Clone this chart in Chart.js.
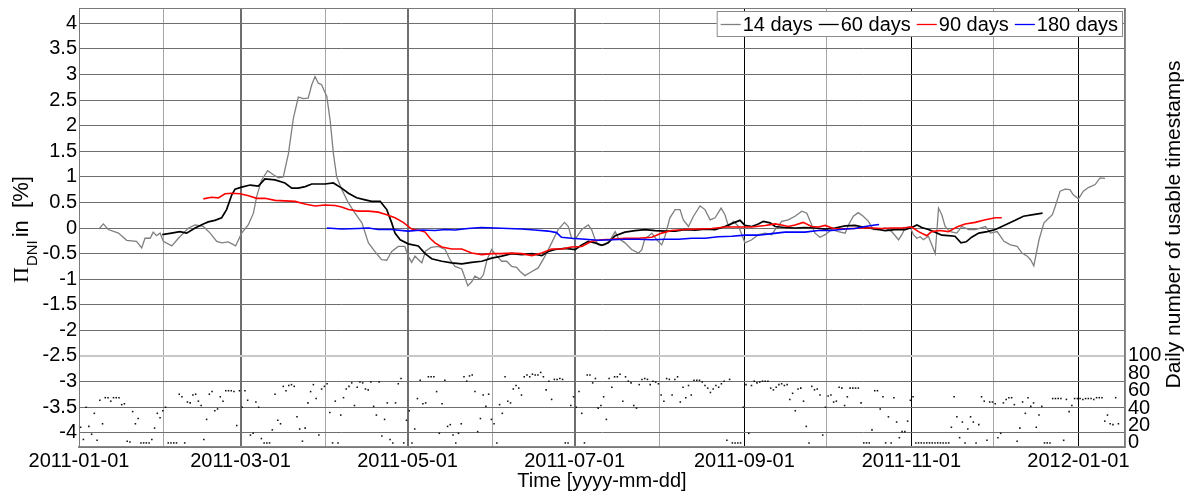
<!DOCTYPE html>
<html>
<head>
<meta charset="utf-8" />
<script src="https://cdn.jsdelivr.net/npm/chart.js@4.4.0/dist/chart.umd.min.js"></script>
<style>
  body { margin:0; background:#fff; }
  #wrap { width:1192px; height:497px; }
</style>
</head>
<body>
<div id="wrap"><canvas id="piChart" width="1192" height="497"></canvas></div>
<script>
// x values are days since 2011-01-01
const monthStarts = [0, 31, 59, 90, 120, 151, 181, 212, 243, 273, 304, 334, 365];
const monthLabels = ['2011-01-01', '', '2011-03-01', '', '2011-05-01', '', '2011-07-01', '', '2011-09-01', '', '2011-11-01', '', '2012-01-01'];
const piTicks = [-4, -3.5, -3, -2.5, -2, -1.5, -1, -0.5, 0, 0.5, 1, 1.5, 2, 2.5, 3, 3.5, 4];
const countTicks = [0, 20, 40, 60, 80, 100];

const days14 = [7.3, 8.9, 10.7, 14.4, 17.4, 21, 22.9, 24.1, 26, 27.1, 28.3, 29.6, 30.8, 33.9, 36.3, 40, 42.4, 45.4, 47.9, 50.3,
  52.1, 54.5, 57.2, 59.4, 61.8, 63.7, 64.9, 66.7, 68.9, 71, 72.8, 74.6, 76.5, 78.3, 80.1, 81.9, 83.7, 85, 86.2, 87.4,
  88.6, 90.5, 91.7, 92.9, 94.1, 96, 98.4, 100.8, 103.3, 105.7, 108.1, 110.5, 112.4, 114.2, 116.6, 119, 120.2, 121.5, 122.7, 124,
  125.2, 126.6, 128.6, 131.2, 133.7, 135.5, 137.3, 139.8, 142, 143.4, 144.6, 146.5, 147.7, 149, 150.7, 152.6, 154.4, 156.2, 158, 159.8,
  161.1, 162.9, 165.4, 167.7, 170.2, 172.6, 175, 177.3, 178.7, 179.9, 181.2, 183.6, 186, 187.2, 188.5, 189.7, 192.1, 194, 195.8, 197,
  199.4, 201.8, 204.3, 205.5, 206.7, 208, 209.2, 211, 212.8, 214, 215.8, 217.7, 219.5, 220.7, 222.6, 224.4, 226.8, 228.6, 230.5, 232.3,
  234.5, 235.9, 237.2, 239, 240.9, 243.2, 245.7, 248.1, 250.6, 253, 254.2, 255.4, 256.6, 259, 261.5, 264, 265.8, 267.3, 268.8, 270.6,
  272.5, 274.9, 277.3, 279.8, 281, 282.8, 284.6, 286.4, 288.3, 290.1, 291.9, 294.4, 296.8, 299.3, 300.5, 301.7, 303.5, 304.7, 306, 307.2,
  308.4, 310.2, 312.7, 313.9, 315.1, 316.3, 318.2, 320.6, 322.4, 324.9, 327.3, 329.2, 331, 332.9, 335.3, 337.8, 340.2, 342.6, 344.4, 346.3,
  347.5, 348.7, 350.6, 352.4, 354.3, 355.5, 356.5, 358.3, 360.1, 361.9, 363.1, 365, 366.8, 368.6, 371.1, 372.9, 374.7];
const pi14 = [-0.02, 0.08, -0.03, -0.1, -0.24, -0.26, -0.39, -0.2, -0.2, -0.08, -0.15, -0.1, -0.26, -0.35, -0.2, 0, 0.06, 0.03, -0.1, -0.26,
  -0.29, -0.27, -0.35, -0.1, 0.06, 0.29, 0.62, 0.94, 1.12, 1.04, 0.98, 1.0, 1.46, 2.15, 2.56, 2.53, 2.54, 2.8, 2.96, 2.83,
  2.8, 2.57, 2.11, 1.46, 1.0, 0.75, 0.49, 0.29, 0.1, -0.29, -0.46, -0.62, -0.63, -0.46, -0.36, -0.36, -0.55, -0.67, -0.55, -0.62,
  -0.68, -0.45, -0.38, -0.36, -0.42, -0.62, -0.75, -0.8, -1.13, -1.05, -0.94, -1.0, -0.91, -0.62, -0.42, -0.55, -0.65, -0.65, -0.75, -0.77,
  -0.85, -0.93, -0.85, -0.78, -0.55, -0.29, -0.03, 0.11, 0.03, -0.2, -0.22, -0.03, 0.06, -0.03, -0.23, -0.33, -0.33, -0.23, -0.07, -0.2,
  -0.29, -0.42, -0.49, -0.43, -0.2, -0.16, -0.1, -0.23, -0.33, -0.16, 0.2, 0.36, 0.36, 0.16, 0.03, 0.23, 0.43, 0.36, 0.16, 0.2,
  0.39, 0.26, 0.03, 0.13, 0.03, -0.29, -0.23, -0.13, -0.1, -0.13, -0.03, 0.03, 0.13, 0.16, 0.23, 0.33, 0.29, 0.1, -0.1, -0.18,
  -0.13, -0.03, -0.07, -0.1, 0.06, 0.23, 0.3, 0.23, 0.13, -0.03, -0.03, 0, -0.07, -0.23, -0.13, 0, 0.03, -0.13, -0.2, -0.17,
  -0.23, -0.16, -0.5, 0.39, 0.26, 0.03, -0.07, -0.1, 0.03, -0.03, -0.03, 0, 0.03, -0.1, -0.07, -0.26, -0.33, -0.36, -0.49, -0.55,
  -0.62, -0.74, -0.23, 0.1, 0.2, 0.26, 0.42, 0.72, 0.76, 0.75, 0.65, 0.57, 0.72, 0.79, 0.85, 0.98, 0.97];

const days60 = [30.4, 33.8, 36.8, 39.3, 42.4, 45.4, 47.2, 49.6, 52.1, 53.9, 55.8, 57, 59.4, 62.5, 65.5, 67.9, 71.6, 75.2, 77.7, 80.1,
  82.6, 85, 87.4, 89.8, 92.9, 95.9, 98.4, 101.4, 104.5, 106.9, 110, 112.4, 114.2, 115.4, 117.3, 120.2, 123.9, 126.4, 128.8, 132.5,
  136.1, 139.8, 143.4, 147.1, 150.7, 154.4, 158, 161.7, 165.4, 169, 171.4, 173.9, 177.5, 181.2, 183.6, 186, 188.5, 190.9, 193.3, 195.8,
  199.4, 203.1, 206.7, 210.4, 214, 217.7, 221.3, 225, 228.6, 232.3, 235.9, 239, 241.4, 243.2, 245.7, 248.1, 249.9, 252.4, 254.2, 257.8,
  261.5, 265.1, 268.8, 272.5, 276.1, 279.8, 283.4, 287.1, 290.7, 294.4, 298, 301.7, 304.1, 306, 307.8, 310.2, 312.6, 315.1, 317.5, 319.9,
  322.1, 324, 326, 328.6, 331.7, 334.7, 338.2, 341.9, 344.9, 348.5, 351.9];
const pi60 = [-0.13, -0.1, -0.07, -0.1, 0, 0.08, 0.12, 0.15, 0.2, 0.36, 0.65, 0.76, 0.8, 0.84, 0.82, 0.96, 0.94, 0.88, 0.78, 0.78,
  0.81, 0.86, 0.86, 0.86, 0.88, 0.78, 0.68, 0.59, 0.55, 0.52, 0.52, 0.36, 0.1, -0.1, -0.23, -0.31, -0.35, -0.5, -0.6, -0.65,
  -0.68, -0.7, -0.67, -0.65, -0.59, -0.55, -0.5, -0.52, -0.5, -0.54, -0.46, -0.42, -0.4, -0.42, -0.33, -0.26, -0.29, -0.34, -0.29, -0.15,
  -0.08, -0.05, -0.03, -0.05, -0.06, -0.06, -0.03, -0.04, -0.02, -0.03, 0.03, 0.1, 0.15, 0.05, 0.03, 0.08, 0.13, 0.1, 0.03, 0.01,
  0, 0.01, 0, -0.02, 0, 0.04, 0.05, 0.01, -0.02, -0.05, -0.03, -0.03, 0.01, 0.06, 0.01, -0.03, -0.08, -0.14, -0.15, -0.16,
  -0.29, -0.27, -0.18, -0.1, -0.07, -0.03, 0.06, 0.15, 0.23, 0.26, 0.29];

const days90 = [45.4, 48.4, 50.9, 53.3, 55.8, 58.8, 61.9, 64.9, 67.9, 71.6, 75.2, 78.9, 82.5, 86.2, 89.8, 93.5, 95.9, 98.4, 102, 105.7,
  109.3, 112.4, 115.4, 118.4, 121.5, 125.2, 126.4, 128.2, 130, 132.5, 136.1, 139.8, 143.4, 147.1, 150.7, 154.4, 158, 161.7, 165.4, 169,
  172.6, 176.3, 179.9, 183.6, 187.2, 190.9, 194.6, 199.4, 204.3, 209.2, 212.8, 216.4, 221.3, 226.2, 231.1, 236, 240.9, 245.7, 250.6, 254.2,
  256.6, 259, 261.5, 264.5, 267.5, 270, 272.5, 275.5, 278.6, 282.2, 285.9, 289.5, 293.2, 296.8, 300.5, 304.1, 306.6, 309.6, 311.4, 314.4,
  317.5, 320.6, 323.6, 327.3, 331, 334.7, 337];
const pi90 = [0.57, 0.6, 0.59, 0.67, 0.68, 0.67, 0.63, 0.58, 0.58, 0.54, 0.53, 0.52, 0.47, 0.43, 0.45, 0.44, 0.41, 0.36, 0.33, 0.33,
  0.31, 0.26, 0.2, 0.11, -0.02, -0.06, -0.08, -0.2, -0.29, -0.37, -0.41, -0.41, -0.49, -0.52, -0.5, -0.5, -0.49, -0.5, -0.54, -0.49,
  -0.41, -0.41, -0.37, -0.36, -0.26, -0.23, -0.22, -0.2, -0.2, -0.18, -0.1, -0.05, -0.03, -0.02, -0.01, 0.02, 0.02, 0.02, 0.05, 0.08,
  0.06, 0.03, 0.06, 0.11, 0.03, 0.02, 0.05, -0.01, -0.02, -0.01, 0, 0, -0.01, 0, 0, 0.02, -0.07, -0.15, -0.07, -0.05,
  -0.07, 0.02, 0.08, 0.11, 0.16, 0.2, 0.2];

const days180 = [90.5, 95.9, 102, 105.7, 109.3, 114.2, 120.2, 125.2, 130, 133.7, 137.3, 142, 146.9, 151.9, 156.7, 161.6, 166.4, 171.3, 174.4, 176.2,
  179.9, 184.8, 189.7, 194.6, 199.4, 204.3, 209.2, 214, 218.9, 223.8, 228.6, 233.5, 238.4, 243.2, 248.1, 253, 257.8, 261.5, 265.1, 270,
  274.9, 279.8, 283.4, 287.1, 290.7, 292.2];
const pi180 = [0, -0.02, -0.01, 0, -0.03, -0.03, -0.06, -0.04, -0.05, -0.03, -0.04, -0.01, 0.01, 0, -0.01, -0.02, -0.04, -0.06, -0.09, -0.18,
  -0.2, -0.22, -0.24, -0.23, -0.22, -0.22, -0.23, -0.22, -0.22, -0.2, -0.2, -0.17, -0.16, -0.14, -0.14, -0.11, -0.08, -0.08, -0.08, -0.05,
  -0.05, -0.02, -0.01, 0.03, 0.06, 0.07];

// one value per day, starting 2011-01-01
const dailyCounts = [
  18, 4, 41, 19, 10, 34, 3, 49, 22, 52, 52, 48, 52, 52, 52, 44, 45, 2, 1, 36,
  22, 28, 0, 0, 0, 0, 4, 17, 34, 29, 37, 41, 0, 0, 0, 0, 56, 53, 0, 47,
  46, 55, 56, 48, 43, 4, 27, 56, 59, 37, 39, 53, 48, 60, 60, 60, 59, 20, 60, 41,
  60, 49, 9, 11, 47, 41, 5, 0, 0, 0, 15, 56, 26, 22, 65, 60, 66, 67, 65, 30,
  16, 2, 17, 46, 59, 67, 51, 9, 62, 65, 68, 35, 0, 48, 0, 32, 52, 62, 65, 69,
  43, 64, 70, 69, 62, 61, 70, 42, 32, 70, 8, 27, 46, 4, 0, 46, 68, 74, 0, 26,
  37, 0, 16, 51, 72, 45, 46, 76, 76, 76, 59, 11, 45, 72, 19, 21, 9, 0, 11, 22,
  76, 71, 77, 78, 59, 13, 28, 55, 42, 56, 27, 22, 0, 44, 34, 76, 48, 46, 62, 66,
  63, 55, 76, 78, 76, 79, 78, 78, 81, 76, 61, 71, 50, 73, 73, 74, 73, 0, 0, 43,
  53, 41, 59, 34, 0, 78, 78, 69, 74, 40, 43, 53, 27, 74, 64, 76, 76, 79, 48, 76,
  71, 69, 43, 40, 67, 73, 74, 73, 67, 71, 70, 68, 55, 48, 74, 73, 55, 73, 76, 47,
  64, 52, 66, 55, 72, 72, 72, 70, 66, 63, 58, 62, 66, 64, 68, 71, 3, 73, 0, 0,
  0, 0, 41, 67, 11, 66, 71, 69, 70, 71, 71, 71, 63, 61, 64, 67, 68, 66, 67, 50,
  57, 37, 62, 63, 48, 19, 0, 65, 61, 62, 55, 9, 41, 54, 55, 47, 48, 64, 63, 43,
  53, 63, 63, 63, 63, 46, 0, 0, 0, 15, 60, 60, 39, 53, 0, 30, 0, 52, 24, 6,
  13, 13, 25, 49, 53, 0, 0, 0, 0, 0, 0, 0, 0, 0, 0, 0, 0, 0, 18, 53,
  30, 6, 24, 0, 16, 30, 24, 0, 21, 53, 48, 3, 47, 47, 45, 6, 11, 46, 50, 52,
  52, 44, 2, 17, 47, 34, 52, 42, 46, 18, 32, 42, 0, 0, 0, 51, 51, 51, 51, 3,
  50, 36, 43, 51, 51, 51, 50, 51, 51, 51, 50, 52, 52, 52, 25, 32, 22, 21, 52, 22
];

const FONT = "'Liberation Sans', Arial, sans-serif";

function pairs(xs, ys) { return xs.map((x, i) => ({ x: x, y: ys[i] })); }

function noPad(scale) {
  scale.paddingTop = 0; scale.paddingBottom = 0;
  scale.paddingLeft = 0; scale.paddingRight = 0;
}

// box around the plot area
const framePlugin = {
  id: 'frame',
  afterDatasetsDraw(chart) {
    const { ctx, chartArea: a } = chart;
    ctx.save();
    ctx.strokeStyle = '#7a7a7a';
    ctx.lineWidth = 1;
    ctx.strokeRect(a.left + 0.5, a.top + 0.5, a.right - a.left - 1, a.bottom - a.top);
    ctx.restore();
  }
};

// horizontal key in the top right corner, built from the line datasets
const keyPlugin = {
  id: 'key',
  afterDraw(chart) {
    const { ctx, chartArea: a } = chart;
    const items = chart.data.datasets.filter(d => d.type === 'line');
    ctx.save();
    ctx.font = '20px ' + FONT;
    const sample = 20, gap = 2, between = 6;
    let total = 0;
    items.forEach((d, i) => {
      total += sample + gap + ctx.measureText(d.label).width + (i < items.length - 1 ? between : 0);
    });
    const right = a.right - 2, top = a.top + 3, h = 26;
    const left = right - total - 9;
    ctx.fillStyle = '#fff';
    ctx.fillRect(left, top, right - left, h);
    ctx.strokeStyle = '#8c8c8c';
    ctx.lineWidth = 1;
    ctx.strokeRect(left + 0.5, top + 0.5, right - left - 1, h - 1);
    let x = left + 4;
    const cy = top + h / 2;
    items.forEach(d => {
      ctx.strokeStyle = d.borderColor;
      ctx.lineWidth = 1.3;
      ctx.beginPath();
      ctx.moveTo(x, cy + 0.5);
      ctx.lineTo(x + sample, cy + 0.5);
      ctx.stroke();
      x += sample + gap;
      ctx.fillStyle = '#000';
      ctx.textBaseline = 'middle';
      ctx.fillText(d.label, x, cy + 1);
      x += ctx.measureText(d.label).width + between;
    });
    ctx.restore();
  }
};

// rotated axis titles, the left one with a subscript
const axisTitlePlugin = {
  id: 'axisTitles',
  afterDraw(chart) {
    const { ctx, chartArea: a } = chart;
    ctx.save();
    ctx.fillStyle = '#000';
    ctx.textBaseline = 'alphabetic';
    ctx.translate(28, 283);
    ctx.rotate(-Math.PI / 2);
    ctx.font = '22px "Liberation Serif", serif';
    ctx.fillText('\u03A0', 0, 0);
    let x = ctx.measureText('\u03A0').width + 1;
    ctx.font = '15px ' + FONT;
    ctx.fillText('DNI', x, 9);
    x += ctx.measureText('DNI').width + 3;
    ctx.font = '22px ' + FONT;
    ctx.fillText('in  [%]', x, 0);
    ctx.restore();

    ctx.save();
    ctx.fillStyle = '#000';
    ctx.font = '21px ' + FONT;
    ctx.textAlign = 'center';
    ctx.textBaseline = 'alphabetic';
    ctx.translate(1180, (a.top + a.bottom) / 2 - 3);
    ctx.rotate(-Math.PI / 2);
    ctx.fillText('Daily number of usable timestamps', 0, 0);
    ctx.restore();
  }
};

const darkMonths = [59, 120, 181];
const blackMonths = [243, 304, 365];

new Chart(document.getElementById('piChart'), {
  type: 'line',
  data: {
    datasets: [
      { type: 'line', label: '14 days', data: pairs(days14, pi14), borderColor: '#7f7f7f', borderWidth: 1.3, pointRadius: 0, tension: 0, order: 4, yAxisID: 'y' },
      { type: 'line', label: '60 days', data: pairs(days60, pi60), borderColor: '#000000', borderWidth: 1.7, pointRadius: 0, tension: 0, order: 3, yAxisID: 'y' },
      { type: 'line', label: '90 days', data: pairs(days90, pi90), borderColor: '#ff0000', borderWidth: 1.6, pointRadius: 0, tension: 0, order: 2, yAxisID: 'y' },
      { type: 'line', label: '180 days', data: pairs(days180, pi180), borderColor: '#0000ff', borderWidth: 1.6, pointRadius: 0, tension: 0, order: 1, yAxisID: 'y' },
      { type: 'scatter', label: 'count', data: dailyCounts.map((c, i) => ({ x: i + 0.6, y: c })), showLine: false,
        pointStyle: 'rect', pointRadius: 1.1, backgroundColor: '#111', borderWidth: 0, order: 5, yAxisID: 'y2' }
    ]
  },
  options: {
    responsive: false,
    animation: false,
    devicePixelRatio: 1,
    layout: { padding: { top: 8, left: 0, right: 0, bottom: 0 } },
    plugins: { legend: { display: false }, tooltip: { enabled: false } },
    scales: {
      x: {
        type: 'linear',
        min: 0,
        max: 382,
        afterBuildTicks: s => { s.ticks = monthStarts.map(v => ({ value: v })); },
        afterFit: s => { s.height = 50; noPad(s); },
        ticks: {
          autoSkip: false, maxRotation: 0, padding: 2, color: '#000',
          font: { family: FONT, size: 20 },
          callback: v => monthLabels[monthStarts.indexOf(v)]
        },
        grid: {
          drawTicks: false,
          color: c => {
            const v = c.tick ? c.tick.value : 0;
            if (darkMonths.includes(v)) return '#6e6e6e';
            if (blackMonths.includes(v)) return '#000000';
            return '#a6a6a6';
          },
          lineWidth: c => (c.tick && darkMonths.includes(c.tick.value)) ? 2 : 1
        },
        border: { color: '#8a8a8a', width: 2 },
        title: { display: true, text: 'Time [yyyy-mm-dd]', color: '#000', font: { family: FONT, size: 20 }, padding: { top: 0, bottom: 4 } }
      },
      y: {
        position: 'left',
        min: -4.28,
        max: 4.3,
        afterBuildTicks: s => { s.ticks = piTicks.map(v => ({ value: v })); },
        afterFit: s => { s.width = 79; noPad(s); },
        ticks: { padding: 2, color: '#000', font: { family: FONT, size: 20 }, callback: v => String(v) },
        grid: {
          drawTicks: false,
          color: c => (c.tick && c.tick.value === -2.5) ? '#c8c8c8' : '#6e6e6e',
          lineWidth: c => (c.tick && c.tick.value === -2.5) ? 2 : 1
        },
        border: { color: '#6e6e6e', width: 1 }
      },
      y2: {
        position: 'right',
        min: -4.7,
        max: 500,
        afterBuildTicks: s => { s.ticks = countTicks.map(v => ({ value: v })); },
        afterFit: s => { s.width = 67; noPad(s); },
        ticks: { padding: 3, color: '#000', font: { family: FONT, size: 20 } },
        grid: { drawOnChartArea: false, drawTicks: false },
        border: { color: '#8a8a8a', width: 1 }
      }
    }
  },
  plugins: [framePlugin, keyPlugin, axisTitlePlugin]
});
</script>
</body>
</html>
